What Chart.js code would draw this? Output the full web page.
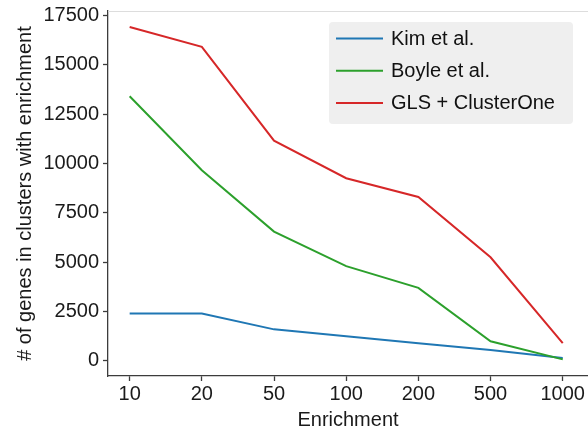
<!DOCTYPE html>
<html lang="en">
<head>
<meta charset="UTF-8">
<title>Genes in enriched clusters</title>
<style>
  html, body { margin: 0; padding: 0; background: #fff; }
  .chart-box { position: relative; width: 588px; height: 435px; }
</style>
</head>
<body>
<div class="chart-box"><canvas id="myChart"></canvas></div>
<script src="https://cdn.jsdelivr.net/npm/chart.js@4.4.1/dist/chart.umd.min.js"></script>
<script>
  // values
  var enrichment = ['10', '20', '50', '100', '200', '500', '1000'];
  var kim = [2400, 2400, 1600, 1250, 900, 550, 150];
  var boyle = [13400, 9650, 6550, 4800, 3700, 1000, 80];
  var gls = [16900, 15900, 11150, 9250, 8300, 5250, 900];
  var yTicks = [0, 2500, 5000, 7500, 10000, 12500, 15000, 17500];

  var FONT = '"Liberation Sans", Arial, Helvetica, sans-serif';
  var AXIS = '#3c3c3c';

  function toPoints(arr) {
    return arr.map(function(v, i) { return { x: i, y: v }; });
  }

  // grey rounded legend box + faint top spine
  var boxLegend = {
    id: 'boxLegend',
    afterDraw: function(chart) {
      var ctx = chart.ctx, area = chart.chartArea;
      ctx.save();
      ctx.strokeStyle = '#dddddd';
      ctx.lineWidth = 1;
      ctx.beginPath();
      ctx.moveTo(area.left, area.top + 0.5);
      ctx.lineTo(area.right, area.top + 0.5);
      ctx.stroke();

      var w = 244, h = 102;
      var x = area.right - 15 - w, y = area.top + 11;
      ctx.fillStyle = '#efefef';
      ctx.beginPath();
      ctx.roundRect(x, y, w, h, 4);
      ctx.fill();

      ctx.font = '20px ' + FONT;
      ctx.textBaseline = 'middle';
      ctx.textAlign = 'left';
      chart.data.datasets.forEach(function(ds, i) {
        var ry = y + 16.5 + i * 32.2;
        ctx.strokeStyle = ds.borderColor;
        ctx.lineWidth = 2;
        ctx.beginPath();
        ctx.moveTo(x + 7, ry);
        ctx.lineTo(x + 54, ry);
        ctx.stroke();
        ctx.fillStyle = '#111';
        ctx.fillText(ds.label, x + 62, ry + 1);
      });
      ctx.restore();
    }
  };

  var ctx = document.getElementById('myChart').getContext('2d');
  var myChart = new Chart(ctx, {
    type: 'line',
    data: {
      datasets: [
        { label: 'Kim et al.', data: toPoints(kim), borderColor: '#1f77b4', order: 3 },
        { label: 'Boyle et al.', data: toPoints(boyle), borderColor: '#2ca02c', order: 2 },
        { label: 'GLS + ClusterOne', data: toPoints(gls), borderColor: '#d62728', order: 1 }
      ]
    },
    options: {
      responsive: true,
      maintainAspectRatio: false,
      animation: false,
      devicePixelRatio: 1,
      layout: { padding: { top: 11, right: 0, left: 0, bottom: 0 } },
      elements: {
        line: { borderWidth: 2, tension: 0, fill: false },
        point: { radius: 0, hoverRadius: 0 }
      },
      plugins: {
        legend: { display: false },
        tooltip: { enabled: false }
      },
      scales: {
        x: {
          type: 'linear',
          min: -0.3,
          max: 6.35,
          afterFit: function(scale) {
            scale.height = 59;
            scale.paddingLeft = 0;
            scale.paddingRight = 0;
          },
          afterBuildTicks: function(scale) {
            scale.ticks = enrichment.map(function(c, i) { return { value: i }; });
          },
          border: { display: true, color: AXIS, width: 1.3 },
          grid: { drawOnChartArea: false, drawTicks: true, tickLength: 5, color: AXIS, tickWidth: 1.3 },
          ticks: {
            padding: 1,
            color: '#1a1a1a',
            font: { family: FONT, size: 20 },
            maxRotation: 0,
            callback: function(v) { return enrichment[v]; }
          },
          title: {
            display: true,
            text: 'Enrichment',
            color: '#1a1a1a',
            font: { family: FONT, size: 20 },
            padding: { top: 0, bottom: 3 }
          }
        },
        y: {
          min: -760,
          max: 17713,
          afterFit: function(scale) {
            scale.width = 108;
            scale.paddingTop = 0;
            scale.paddingBottom = 0;
          },
          afterBuildTicks: function(scale) {
            scale.ticks = yTicks.map(function(v) { return { value: v }; });
          },
          border: { display: true, color: AXIS, width: 1.3 },
          grid: { drawOnChartArea: false, drawTicks: true, tickLength: 5, color: AXIS, tickWidth: 1.3 },
          ticks: {
            padding: 4,
            color: '#1a1a1a',
            font: { family: FONT, size: 20 },
            callback: function(v) { return String(v); }
          },
          title: {
            display: true,
            text: '# of genes in clusters with enrichment',
            color: '#1a1a1a',
            font: { family: FONT, size: 20 },
            padding: { top: 13, bottom: 0 }
          }
        }
      }
    },
    plugins: [boxLegend]
  });
</script>
</body>
</html>
